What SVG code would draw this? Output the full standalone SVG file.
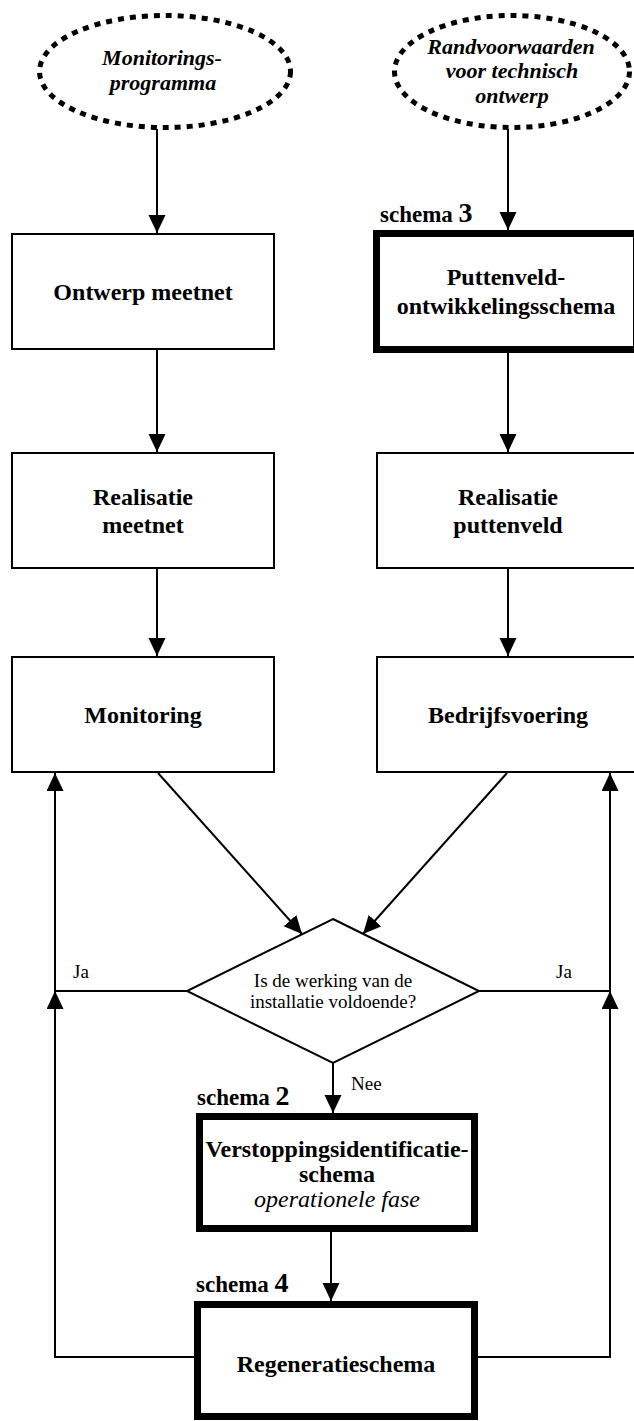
<svg xmlns="http://www.w3.org/2000/svg" width="634" height="1421" viewBox="0 0 634 1421">
<style>
.bg{fill:#fff}
.box{fill:#fff;stroke:#000;stroke-width:2}
.thick{fill:#fff;stroke:#000;stroke-width:7}
.oval{fill:#fff;stroke:#000;stroke-width:5;stroke-dasharray:6 6}
.dia{fill:#fff;stroke:#000;stroke-width:2}
.con{fill:none;stroke:#000;stroke-width:2}
.arr{marker-end:url(#ah)}
.b{font-family:"Liberation Serif","Times New Roman",serif;font-weight:bold;font-size:24px;text-anchor:middle;fill:#000}
.bi{font-family:"Liberation Serif","Times New Roman",serif;font-weight:bold;font-style:italic;font-size:22px;text-anchor:middle;fill:#000}
.i{font-family:"Liberation Serif","Times New Roman",serif;font-style:italic;font-size:24px;text-anchor:middle;fill:#000}
.r{font-family:"Liberation Serif","Times New Roman",serif;font-size:19px;fill:#000}
.rc{font-family:"Liberation Serif","Times New Roman",serif;font-size:19px;text-anchor:middle;fill:#000}
.lab{font-family:"Liberation Serif","Times New Roman",serif;font-weight:bold;font-size:23px;fill:#000}
.big{font-size:28px}
</style>
<defs>
<marker id="ah" markerUnits="userSpaceOnUse" markerWidth="18" markerHeight="18" refX="18" refY="8.5" orient="auto">
<path d="M0,0 L18,8.5 L0,17 z" fill="#000"/>
</marker>
</defs>
<rect class="bg" x="0" y="0" width="634" height="1421"/>

<g id="connectors">
<line class="con arr" x1="157" y1="129" x2="157" y2="233"/>
<line class="con arr" x1="157" y1="350" x2="157" y2="452"/>
<line class="con arr" x1="157" y1="569" x2="157" y2="656"/>
<line class="con arr" x1="508" y1="129" x2="508" y2="230"/>
<line class="con arr" x1="508" y1="353" x2="508" y2="452"/>
<line class="con arr" x1="508" y1="569" x2="508" y2="656"/>
<line class="con arr" x1="158" y1="773" x2="302" y2="934"/>
<line class="con arr" x1="507" y1="773" x2="363" y2="934"/>
<line class="con arr" x1="333" y1="1063" x2="333" y2="1113"/>
<line class="con arr" x1="331" y1="1232" x2="331" y2="1301"/>
<polyline class="con arr" points="194,1357 55,1357 55,991"/>
<polyline class="con arr" points="187,991 55,991 55,773"/>
<polyline class="con arr" points="478,1357 610,1357 610,991"/>
<polyline class="con arr" points="479,991 610,991 610,773"/>
<text class="r" x="73" y="978">Ja</text>
<text class="r" x="556" y="978">Ja</text>
<text class="r" x="351" y="1090">Nee</text>
</g>

<g id="monitoringsprogramma">
<ellipse class="oval" cx="165" cy="71.5" rx="125.5" ry="56"/>
<text class="bi" x="162" y="65">Monitorings-</text>
<text class="bi" x="163" y="90">programma</text>
</g>

<g id="randvoorwaarden">
<ellipse class="oval" cx="512" cy="71.5" rx="117.5" ry="56"/>
<text class="bi" x="511" y="53.5">Randvoorwaarden</text>
<text class="bi" x="512" y="78">voor technisch</text>
<text class="bi" x="512" y="102.5">ontwerp</text>
</g>

<g id="ontwerp-meetnet">
<rect class="box" x="12" y="234" width="262" height="115"/>
<text class="b" x="143" y="300">Ontwerp meetnet</text>
</g>

<g id="puttenveld">
<rect class="thick" x="376.5" y="233.5" width="260" height="116"/>
<text class="lab" x="380" y="222">schema <tspan class="big">3</tspan></text>
<text class="b" x="506" y="285">Puttenveld-</text>
<text class="b" x="506" y="314">ontwikkelingsschema</text>
</g>

<g id="realisatie-meetnet">
<rect class="box" x="12" y="453" width="262" height="115"/>
<text class="b" x="143" y="505">Realisatie</text>
<text class="b" x="143" y="533">meetnet</text>
</g>

<g id="realisatie-puttenveld">
<rect class="box" x="377" y="453" width="262" height="115"/>
<text class="b" x="508" y="505">Realisatie</text>
<text class="b" x="508" y="533">puttenveld</text>
</g>

<g id="monitoring">
<rect class="box" x="12" y="657" width="262" height="115"/>
<text class="b" x="143" y="723">Monitoring</text>
</g>

<g id="bedrijfsvoering">
<rect class="box" x="377" y="657" width="262" height="115"/>
<text class="b" x="508" y="723">Bedrijfsvoering</text>
</g>

<g id="beslissing">
<polygon class="dia" points="333,919 479,991 333,1063 187,991"/>
<text class="rc" x="333" y="987">Is de werking van de</text>
<text class="rc" x="333" y="1008">installatie voldoende?</text>
</g>

<g id="verstoppingsidentificatie">
<rect class="thick" x="199.5" y="1116.5" width="275" height="112"/>
<text class="lab" x="197" y="1105">schema <tspan class="big">2</tspan></text>
<text class="b" x="337" y="1157">Verstoppingsidentificatie-</text>
<text class="b" x="337" y="1182">schema</text>
<text class="i" x="337" y="1207">operationele fase</text>
</g>

<g id="regeneratieschema">
<rect class="thick" x="197.5" y="1304.5" width="277" height="112"/>
<text class="lab" x="196" y="1292">schema <tspan class="big">4</tspan></text>
<text class="b" x="336" y="1372">Regeneratieschema</text>
</g>
</svg>
